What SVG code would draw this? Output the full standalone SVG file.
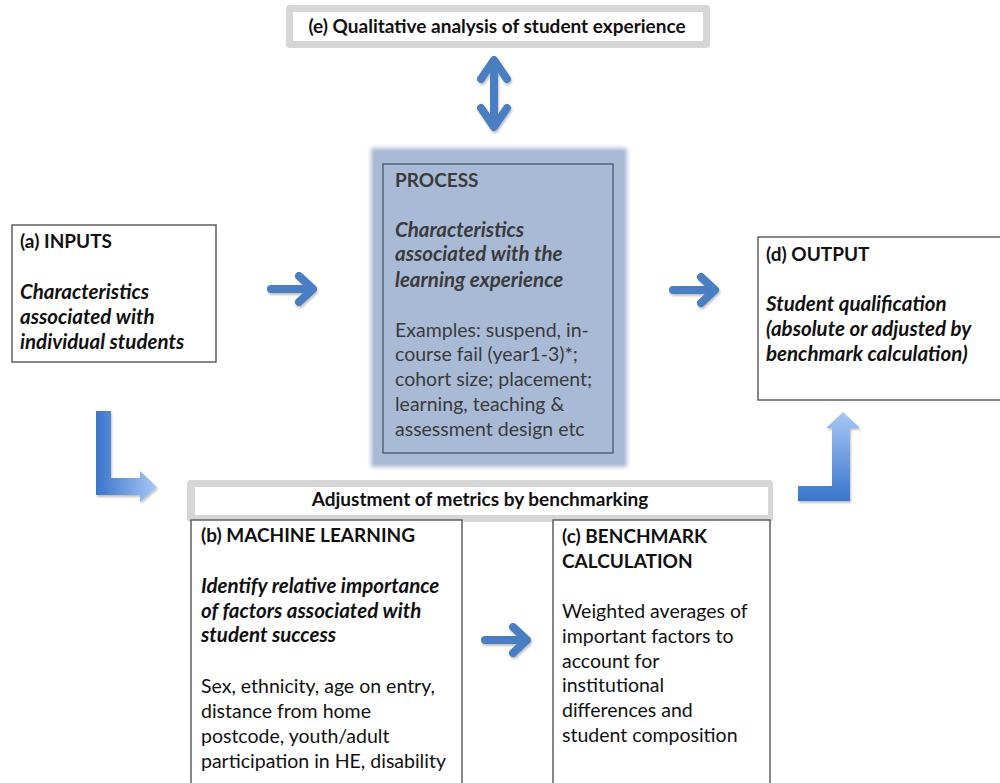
<svg xmlns="http://www.w3.org/2000/svg" width="1000" height="783" viewBox="0 0 1000 783">
<style>
  text { font-family: Lato, "Open Sans", "Liberation Sans", sans-serif; font-size: 19.5px; fill: #111; }
  .b { font-weight: bold; font-size: 19px; }
  .bi { font-weight: bold; font-style: italic; font-size: 20.5px; }
  .proc { fill: #3b3b3b; }
  .box { fill: #fff; stroke: #555; stroke-width: 1.4; }
  .graybar { fill: #d6d6d6; }
  .inner { fill: #fff; }
  .arr { fill: none; stroke: #4a7ec2; stroke-width: 8; stroke-linecap: round; stroke-linejoin: round; }
</style>
<defs>
  <filter id="sh" x="-20%" y="-20%" width="140%" height="140%">
    <feDropShadow dx="1" dy="2" stdDeviation="1.2" flood-color="#000" flood-opacity="0.25"/>
  </filter>
  <filter id="glow" x="-5%" y="-5%" width="110%" height="110%">
    <feGaussianBlur stdDeviation="2"/>
  </filter>
  <linearGradient id="gl" x1="0" y1="0" x2="1" y2="0">
    <stop offset="0" stop-color="#3a74cb"/>
    <stop offset="1" stop-color="#a8c8f4"/>
  </linearGradient>
  <linearGradient id="gu" x1="0" y1="0" x2="0" y2="1">
    <stop offset="0" stop-color="#a8c8f4"/>
    <stop offset="1" stop-color="#3a74cb"/>
  </linearGradient>
  <g id="rarrow">
    <line x1="-43" y1="0" x2="-4" y2="0"/>
    <polyline points="-15,-13 -1,0 -15,13"/>
  </g>
</defs>

<g id="node-e">
  <rect class="graybar" x="286" y="5" width="424" height="43" rx="4"/>
  <rect class="inner" x="293" y="12" width="410" height="29"/>
  <text class="b" x="497" y="33" text-anchor="middle" font-size="21.8">(e) Qualitative analysis of student experience</text>
</g>

<g id="node-process">
  <rect x="371" y="148" width="256" height="319" fill="#a9bad6" filter="url(#glow)"/>
  <rect x="374" y="151" width="250" height="313" fill="#a9bad6"/>
  <rect x="383" y="164" width="230" height="289" fill="none" stroke="#4a5668" stroke-width="1.3"/>
  <text class="b proc" x="395" y="187" font-size="17.5">PROCESS</text>
  <text class="bi proc" x="395" y="237">Characteristics</text>
  <text class="bi proc" x="395" y="261">associated with the</text>
  <text class="bi proc" x="395" y="287">learning experience</text>
  <text class="proc" x="395" y="337">Examples: suspend, in-</text>
  <text class="proc" x="395" y="361">course fail (year1-3)*;</text>
  <text class="proc" x="395" y="386">cohort size; placement;</text>
  <text class="proc" x="395" y="411">learning, teaching &amp;</text>
  <text class="proc" x="395" y="436">assessment design etc</text>
</g>

<g id="node-a">
  <rect class="box" x="12" y="225" width="204" height="137"/>
  <text class="b" x="20" y="248">(a) INPUTS</text>
  <text class="bi" x="20" y="299">Characteristics</text>
  <text class="bi" x="20" y="324">associated with</text>
  <text class="bi" x="20" y="349">individual students</text>
</g>

<g id="node-d">
  <rect class="box" x="758" y="237" width="250" height="163"/>
  <text class="b" x="766" y="261">(d) OUTPUT</text>
  <text class="bi" x="766" y="311">Student qualification</text>
  <text class="bi" x="766" y="336">(absolute or adjusted by</text>
  <text class="bi" x="766" y="361">benchmark calculation)</text>
</g>

<g id="node-benchmarking">
  <rect class="graybar" x="187" y="480" width="586" height="42" rx="4"/>
  <rect class="inner" x="195" y="487" width="573" height="28"/>
  <text class="b" x="480" y="506" text-anchor="middle" font-size="18.5">Adjustment of metrics by benchmarking</text>
</g>

<g id="node-b">
  <rect class="box" x="191" y="520" width="271" height="270"/>
  <text class="b" x="201" y="542">(b) MACHINE LEARNING</text>
  <text class="bi" x="201" y="593">Identify relative importance</text>
  <text class="bi" x="201" y="618">of factors associated with</text>
  <text class="bi" x="201" y="642">student success</text>
  <text x="201" y="693">Sex, ethnicity, age on entry,</text>
  <text x="201" y="718">distance from home</text>
  <text x="201" y="743">postcode, youth/adult</text>
  <text x="201" y="768">participation in HE, disability</text>
</g>

<g id="node-c">
  <rect class="box" x="553" y="520" width="217" height="270"/>
  <text class="b" x="562" y="543">(c) BENCHMARK</text>
  <text class="b" x="562" y="568">CALCULATION</text>
  <text x="562" y="618">Weighted averages of</text>
  <text x="562" y="643">important factors to</text>
  <text x="562" y="668">account for</text>
  <text x="562" y="692">institutional</text>
  <text x="562" y="717">differences and</text>
  <text x="562" y="742">student composition</text>
</g>

<g id="connectors">
  <g filter="url(#sh)">
    <use href="#rarrow" class="arr" transform="translate(314,289)"/>
    <use href="#rarrow" class="arr" transform="translate(716,290)"/>
    <use href="#rarrow" class="arr" transform="translate(528,640)"/>
    <g class="arr" stroke-width="9">
      <line x1="494" y1="62" x2="494" y2="125"/>
      <polyline points="481,79 494,60 507,79"/>
      <polyline points="481,108 494,127 507,108"/>
    </g>
    <polygon fill="url(#gl)" points="96,411 111,411 111,478 140,478 140,471 157,487 140,502 140,495 96,495"/>
    <polygon fill="url(#gu)" points="798,486 832,486 832,428 826,428 843,412 860,428 850,428 850,501 798,501"/>
  </g>
</g>
</svg>
